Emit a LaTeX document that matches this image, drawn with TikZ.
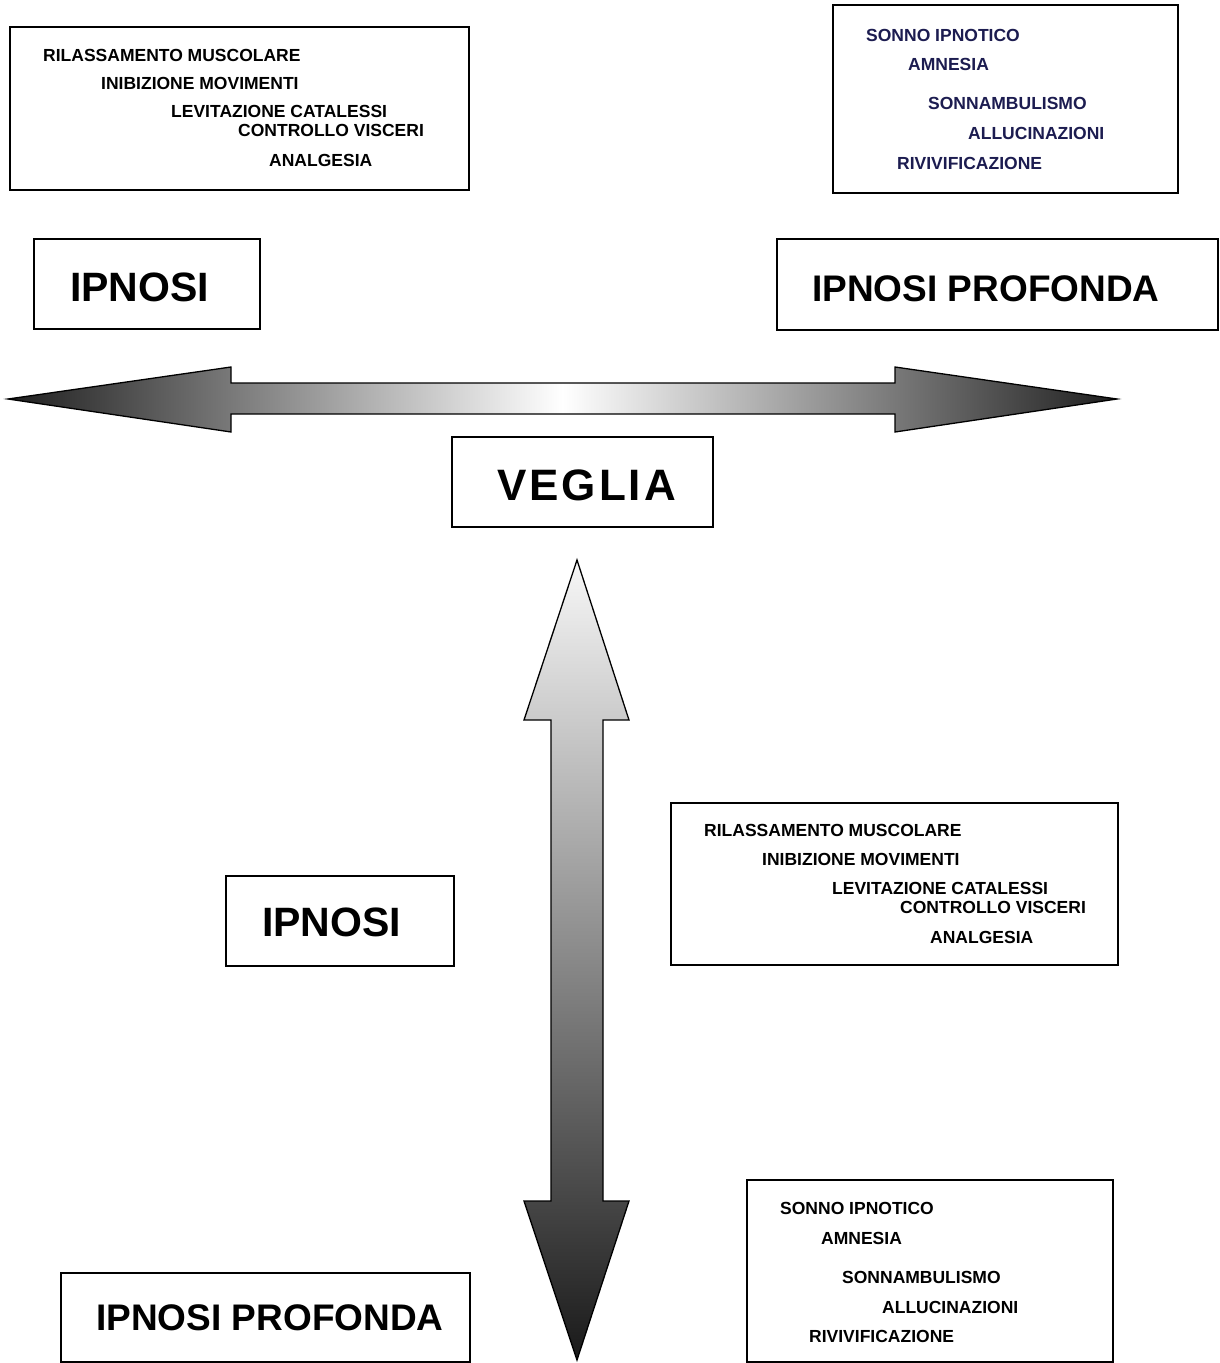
\documentclass[tikz,border=0pt]{standalone}
\usepackage{fontspec}
\setmainfont{Liberation Sans}
\definecolor{navy}{HTML}{1C1C50}
\begin{document}
\begin{tikzpicture}[x=1pt,y=-1pt,
  box/.style={draw, line width=1.3pt, fill=white, inner sep=0},
  small/.style={anchor=west, inner sep=0, font=\bfseries\fontsize{17.5}{17.5}\selectfont},
  big/.style={anchor=west, inner sep=0, font=\bfseries\fontsize{37}{37}\selectfont},
  blockarrow/.style={draw, line width=1.3pt, line join=miter}
]
\useasboundingbox (0,0) rectangle (1219,1363);

% boxes
\node[box, minimum width=459pt, minimum height=163pt] (tl) at (239.5,108.5) {};
\node[box, minimum width=345pt, minimum height=188pt] (tr) at (1005.5,99) {};
\node[box, minimum width=226pt, minimum height=90pt] (ip1) at (147,284) {};
\node[box, minimum width=441pt, minimum height=91pt] (ipp1) at (997.5,284.5) {};
\node[box, minimum width=261pt, minimum height=90pt] (veg) at (582.5,482) {};
\node[box, minimum width=447pt, minimum height=162pt] (mr) at (894.5,884) {};
\node[box, minimum width=228pt, minimum height=90pt] (ip2) at (340,921) {};
\node[box, minimum width=366pt, minimum height=182pt] (br) at (930,1271) {};
\node[box, minimum width=409pt, minimum height=89pt] (ipp2) at (265.5,1317.5) {};

% horizontal block arrow
\path[blockarrow, left color=black!88, right color=black!88, middle color=white]
  (8,399) coordinate (hl) -- (231,367) -- (231,383) -- (895,383) -- (895,367)
  -- (1117,399) coordinate (hr) -- (895,432) -- (895,414) -- (231,414) -- (231,432) -- cycle;

% vertical block arrow
\path[blockarrow, top color=black!3, bottom color=black!90]
  (577,560) coordinate (vt) -- (629,720) -- (603,720) -- (603,1201) -- (629,1201)
  -- (577,1360) coordinate (vb) -- (524,1201) -- (551,1201) -- (551,720) -- (524,720) -- cycle;

% big labels
\node[big, font=\bfseries\fontsize{41}{41}\selectfont] (t1) at (70,287) {IPNOSI};
\node[big] (t2) at (812,289) {IPNOSI PROFONDA};
\node[big, font=\bfseries\fontsize{44}{44}\selectfont] (t3) at (497,485) {V\kern3pt E\kern3pt G\kern3pt L\kern3pt I\kern3pt A};
\node[big, font=\bfseries\fontsize{41}{41}\selectfont] (t4) at (262,922) {IPNOSI};
\node[big] (t5) at (96,1318) {IPNOSI PROFONDA};

% top-left list
\node[small] (a1) at (43,55) {RILASSAMENTO MUSCOLARE};
\node[small] (a2) at (101,83) {INIBIZIONE MOVIMENTI};
\node[small] (a3) at (171,111) {LEVITAZIONE CATALESSI};
\node[small] (a4) at (238,130) {CONTROLLO VISCERI};
\node[small] (a5) at (269,160) {ANALGESIA};

% top-right list
\node[small, text=navy] (b1) at (866,35) {SONNO IPNOTICO};
\node[small, text=navy] (b2) at (908,64) {AMNESIA};
\node[small, text=navy] (b3) at (928,103) {SONNAMBULISMO};
\node[small, text=navy] (b4) at (968,133) {ALLUCINAZIONI};
\node[small, text=navy] (b5) at (897,163) {RIVIVIFICAZIONE};

% middle-right list
\node[small] (c1) at (704,830) {RILASSAMENTO MUSCOLARE};
\node[small] (c2) at (762,859) {INIBIZIONE MOVIMENTI};
\node[small] (c3) at (832,888) {LEVITAZIONE CATALESSI};
\node[small] (c4) at (900,907) {CONTROLLO VISCERI};
\node[small] (c5) at (930,937) {ANALGESIA};

% bottom-right list
\node[small] (d1) at (780,1208) {SONNO IPNOTICO};
\node[small] (d2) at (821,1238) {AMNESIA};
\node[small] (d3) at (842,1277) {SONNAMBULISMO};
\node[small] (d4) at (882,1307) {ALLUCINAZIONI};
\node[small] (d5) at (809,1336) {RIVIVIFICAZIONE};
\end{tikzpicture}
\end{document}
